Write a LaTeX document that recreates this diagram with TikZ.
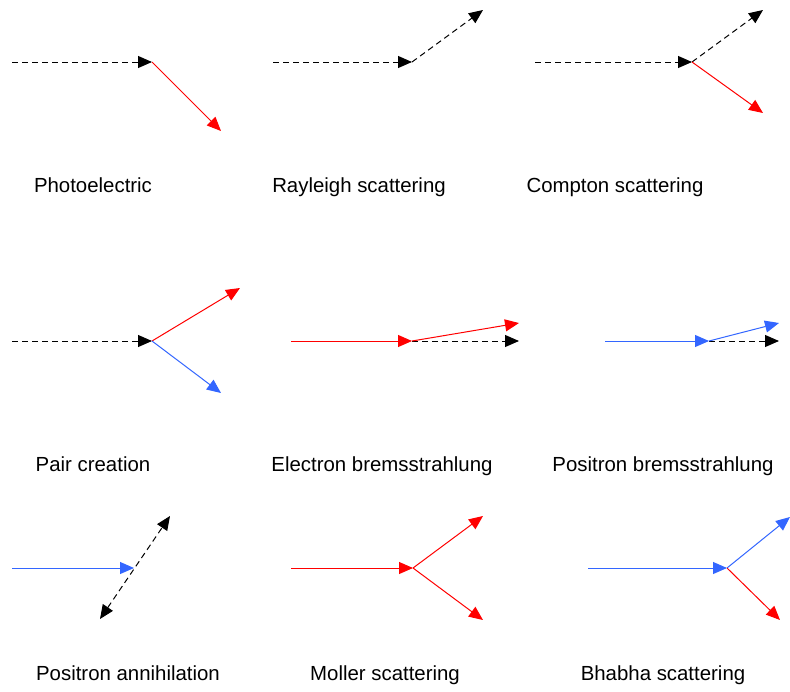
\documentclass[tikz,border=0pt]{standalone}
\usepackage{fontspec}
\setmainfont{Liberation Sans}
\usetikzlibrary{arrows.meta}
\definecolor{elecred}{RGB}{255,0,0}
\definecolor{posblue}{RGB}{51,102,255}

\tikzset{
  photon/.style={black,line width=1pt,dash pattern=on 6pt off 4pt,-{Triangle[length=14pt,width=12pt]}},
  electron/.style={elecred,line width=1pt,-{Triangle[length=14pt,width=12pt]}},
  positron/.style={posblue,line width=1pt,-{Triangle[length=14pt,width=12pt]}},
  proc/.style={anchor=base,font=\fontsize{20.4}{24}\selectfont}
}

\begin{document}
\begin{tikzpicture}[x=1pt,y=-1pt]
\useasboundingbox (0,0) rectangle (790,691);

% photoelectric
\coordinate (pein) at (12,62);
\coordinate (pev) at (152,62);
\coordinate (peout) at (221,131);
\draw[photon] (pein) -- (pev);
\draw[electron] (pev) -- (peout);
\node[proc] (pelabel) at (93,192) {Photoelectric};

% rayleigh
\coordinate (rain) at (273,62);
\coordinate (rav) at (412,62);
\coordinate (raout) at (483,10);
\draw[photon] (rain) -- (rav);
\draw[photon] (rav) -- (raout);
\node[proc] (ralabel) at (359,192) {Rayleigh scattering};

% compton
\coordinate (coin) at (535,62);
\coordinate (cov) at (692,62);
\coordinate (cogam) at (763,10);
\coordinate (coel) at (763,113);
\draw[photon] (coin) -- (cov);
\draw[photon] (cov) -- (cogam);
\draw[electron] (cov) -- (coel);
\node[proc] (colabel) at (615,192) {Compton scattering};

% pair creation
\coordinate (pcin) at (12,341);
\coordinate (pcv) at (152,341);
\coordinate (pcel) at (240,288);
\coordinate (pcpos) at (221,393);
\draw[photon] (pcin) -- (pcv);
\draw[electron] (pcv) -- (pcel);
\draw[positron] (pcv) -- (pcpos);
\node[proc] (pclabel) at (93,471) {Pair creation};

% electron bremsstrahlung
\coordinate (ebin) at (291,341);
\coordinate (ebv) at (412,341);
\coordinate (ebel) at (519,323);
\coordinate (ebgam) at (519,341);
\draw[electron] (ebin) -- (ebv);
\draw[photon] (ebv) -- (ebgam);
\draw[electron] (ebv) -- (ebel);
\node[proc] (eblabel) at (382,471) {Electron bremsstrahlung};

% positron bremsstrahlung
\coordinate (pbin) at (605,341);
\coordinate (pbv) at (709,341);
\coordinate (pbpos) at (779,323);
\coordinate (pbgam) at (779,341);
\draw[positron] (pbin) -- (pbv);
\draw[photon] (pbv) -- (pbgam);
\draw[positron] (pbv) -- (pbpos);
\node[proc] (pblabel) at (663,471) {Positron bremsstrahlung};

% positron annihilation
\coordinate (pain) at (12,568);
\coordinate (pav) at (134,568);
\coordinate (paup) at (170,516);
\coordinate (padown) at (100,619);
\draw[positron] (pain) -- (pav);
\draw[photon,{Triangle[length=14pt,width=12pt]}-{Triangle[length=14pt,width=12pt]}] (padown) -- (paup);
\node[proc] (palabel) at (128,680) {Positron annihilation};

% moller
\coordinate (moin) at (291,568);
\coordinate (mov) at (413,568);
\coordinate (moup) at (483,516);
\coordinate (modown) at (483,620);
\draw[electron] (moin) -- (mov);
\draw[electron] (mov) -- (moup);
\draw[electron] (mov) -- (modown);
\node[proc] (molabel) at (385,680) {Moller scattering};

% bhabha
\coordinate (bhin) at (588,568);
\coordinate (bhv) at (727,568);
\coordinate (bhpos) at (790,517);
\coordinate (bhel) at (780,620);
\draw[positron] (bhin) -- (bhv);
\draw[positron] (bhv) -- (bhpos);
\draw[electron] (bhv) -- (bhel);
\node[proc] (bhlabel) at (663,680) {Bhabha scattering};
\end{tikzpicture}
\end{document}
